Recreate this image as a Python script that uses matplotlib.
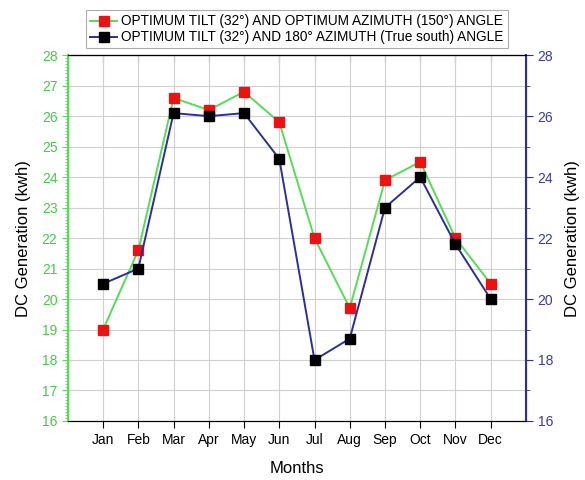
import matplotlib
matplotlib.use("Agg")
import matplotlib.pyplot as plt
import matplotlib.ticker as mticker

# Datos
MESES = ["Jan", "Feb", "Mar", "Apr", "May", "Jun",
         "Jul", "Aug", "Sep", "Oct", "Nov", "Dec"]
OPTIMO_150 = [19.0, 21.6, 26.6, 26.2, 26.8, 25.8, 22.0, 19.7, 23.9, 24.5, 22.0, 20.5]
SUR_180 = [20.5, 21.0, 26.1, 26.0, 26.1, 24.6, 18.0, 18.7, 23.0, 24.0, 21.8, 20.0]

ETIQUETA_150 = "OPTIMUM TILT (32°) AND OPTIMUM AZIMUTH (150°) ANGLE"
ETIQUETA_180 = "OPTIMUM TILT (32°) AND 180° AZIMUTH (True south) ANGLE"

COLOR_VERDE = "#55dd55"
COLOR_VERDE_TEXTO = "#44cc44"
COLOR_AZUL = "#2e2e9a"
COLOR_AZUL_TEXTO = "#3a3aa0"
COLOR_ROJO = "#ee1111"
COLOR_GRID = "#d0d0d0"

plt.rcParams["font.family"] = "Liberation Sans"

fig = plt.figure(figsize=(5.85, 4.8), dpi=100)
ax = fig.add_axes([0.116, 0.123, 0.783, 0.762])
ax2 = ax.twinx()

x = list(range(1, len(MESES) + 1))

l1, = ax.plot(x, OPTIMO_150, color=COLOR_VERDE, linewidth=1.4,
              marker="s", markersize=7.5, markerfacecolor=COLOR_ROJO,
              markeredgecolor=COLOR_ROJO, label=ETIQUETA_150, zorder=3)
l2, = ax2.plot(x, SUR_180, color=COLOR_AZUL, linewidth=1.4,
               marker="s", markersize=7.5, markerfacecolor="black",
               markeredgecolor="black", label=ETIQUETA_180, zorder=3)

for a in (ax, ax2):
    a.set_xlim(0, 13)
    a.set_ylim(16, 28)

# Eje X (ticks hacia fuera abajo, hacia dentro arriba)
ax.set_xticks(x)
ax.set_xticklabels(MESES, fontsize=10)
ax.tick_params(axis="x", direction="out", length=5)
ax.set_xlabel("Months", fontsize=12, labelpad=10)
arriba = ax.secondary_xaxis("top")
arriba.set_xticks(x)
arriba.tick_params(axis="x", direction="in", length=5, labeltop=False)

# Eje Y izquierdo (verde)
ax.yaxis.set_major_locator(mticker.MultipleLocator(1))
ax.yaxis.set_minor_locator(mticker.MultipleLocator(0.1))
ax.tick_params(axis="y", colors=COLOR_VERDE, labelcolor=COLOR_VERDE_TEXTO,
               labelsize=10, length=4, direction="out")
ax.tick_params(axis="y", which="minor", colors=COLOR_VERDE, length=2)
ax.set_ylabel("DC Generation (kwh)", fontsize=12, labelpad=8)
ax.spines["left"].set_color(COLOR_VERDE)
ax.spines["left"].set_linewidth(1.5)

# Eje Y derecho (azul)
ax2.yaxis.set_major_locator(mticker.MultipleLocator(2))
ax2.yaxis.set_minor_locator(mticker.MultipleLocator(1))
ax2.tick_params(axis="y", colors=COLOR_AZUL, labelcolor=COLOR_AZUL_TEXTO,
                labelsize=10, length=5, direction="out")
ax2.tick_params(axis="y", which="minor", colors=COLOR_AZUL, length=3)
ax2.set_ylabel("DC Generation (kwh)", fontsize=12, labelpad=8)
ax2.spines["right"].set_color(COLOR_AZUL)
ax2.spines["right"].set_linewidth(1.5)
ax2.spines["left"].set_visible(False)

# Grid
ax.grid(True, color=COLOR_GRID, linewidth=0.8)
ax.set_axisbelow(True)

# Leyenda
leg = ax.legend(handles=[l1, l2], loc="lower center",
                bbox_to_anchor=(0.5, 1.0), ncol=1, fontsize=9.8,
                frameon=True, fancybox=False, edgecolor="#999999",
                handlelength=2.0, handletextpad=0.3, borderpad=0.3,
                labelspacing=0.15, borderaxespad=0.5)
leg.get_frame().set_linewidth(0.8)

fig.savefig("out.png", dpi=100)
